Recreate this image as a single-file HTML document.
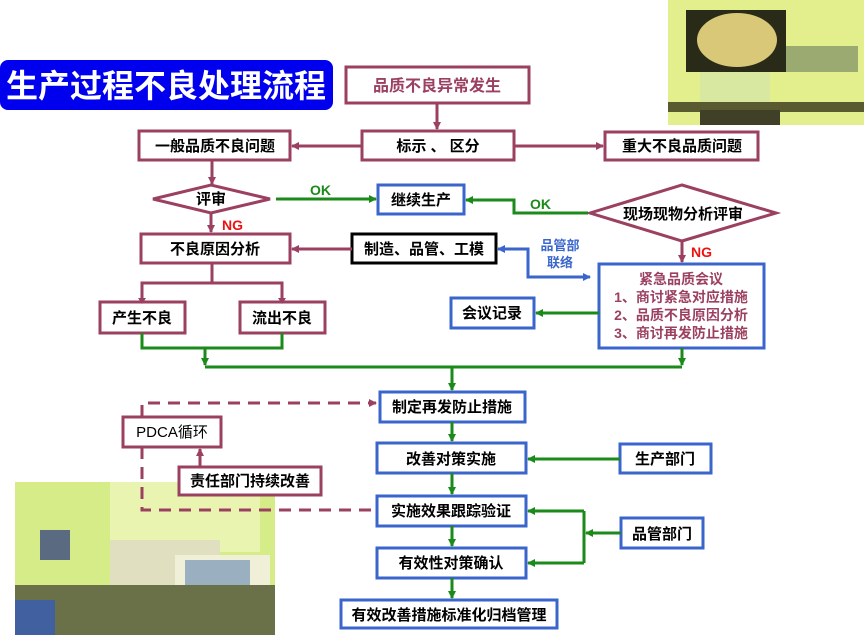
<!DOCTYPE html>
<html><head><meta charset="utf-8"><style>
html,body{margin:0;padding:0;background:#fff;}
svg{display:block;}
text{font-family:"Liberation Sans","Noto Sans CJK SC",sans-serif;font-weight:bold;}
</style></head><body>
<svg width="864" height="635" viewBox="0 0 864 635" xmlns="http://www.w3.org/2000/svg">
<defs>
<marker id="am" markerWidth="8" markerHeight="8" refX="7" refY="4" orient="auto" markerUnits="userSpaceOnUse"><path d="M0,0 L8,4 L0,8 z" fill="#9b4060"/></marker>
<marker id="ag" markerWidth="8" markerHeight="8" refX="7" refY="4" orient="auto" markerUnits="userSpaceOnUse"><path d="M0,0 L8,4 L0,8 z" fill="#1a8a1a"/></marker>
<marker id="ab" markerWidth="8" markerHeight="8" refX="7" refY="4" orient="auto" markerUnits="userSpaceOnUse"><path d="M0,0 L8,4 L0,8 z" fill="#3a66cc"/></marker>
<marker id="abs" markerWidth="8" markerHeight="8" refX="1" refY="4" orient="auto" markerUnits="userSpaceOnUse"><path d="M8,0 L0,4 L8,8 z" fill="#3a66cc"/></marker>
</defs>

<!-- top-right photo -->
<rect x="668" y="0" width="196" height="125" fill="#e3ee8c"/>
<rect x="686" y="10" width="100" height="62" fill="#2a2a18"/>
<ellipse cx="737" cy="40" rx="40" ry="27" fill="#d8c878"/>
<rect x="786" y="46" width="72" height="26" fill="#9aaa70"/>
<rect x="700" y="72" width="70" height="30" fill="#d8e8a0"/>
<rect x="668" y="102" width="196" height="10" fill="#5a5a30"/>
<rect x="700" y="110" width="80" height="15" fill="#404028"/>

<!-- bottom-left photo -->
<rect x="15" y="482" width="260" height="153" fill="#d6ec88"/>
<rect x="110" y="482" width="150" height="70" fill="#e8f4b0"/>
<rect x="40" y="530" width="30" height="30" fill="#5a6a80"/>
<rect x="110" y="540" width="110" height="45" fill="#e0e0c0"/>
<rect x="175" y="555" width="95" height="60" fill="#f0f0d8"/>
<rect x="185" y="560" width="65" height="45" fill="#9ab0c0"/>
<rect x="15" y="585" width="260" height="50" fill="#6a7048"/>
<rect x="15" y="600" width="40" height="35" fill="#4060a0"/>

<!-- title -->
<rect x="0" y="60" width="333" height="50" rx="8" fill="#0000ee"/>
<text x="166" y="97" font-size="32" fill="#fff" text-anchor="middle">生产过程不良处理流程</text>

<g fill="#fff" stroke="#9b4060" stroke-width="3">
<rect x="346" y="67" width="183" height="36"/>
<rect x="362" y="131" width="152" height="29"/>
<rect x="139" y="131" width="151" height="29"/>
<rect x="605" y="132" width="153" height="28"/>
<polygon points="153,199 211,185 270,199 211,213"/>
<polygon points="590,213 682,185 776,213 682,241"/>
<rect x="141" y="234" width="149" height="29"/>
<rect x="100" y="302" width="85" height="31"/>
<rect x="240" y="302" width="85" height="31"/>
<rect x="123" y="417" width="98" height="30"/>
<rect x="179" y="467" width="142" height="28"/>
</g>
<rect x="352" y="234" width="144" height="29" fill="#fff" stroke="#000" stroke-width="3"/>
<g fill="#fff" stroke="#3a66cc" stroke-width="3">
<rect x="378" y="185" width="86" height="29"/>
<rect x="599" y="264" width="165" height="84"/>
<rect x="451" y="298" width="83" height="30"/>
<rect x="380" y="392" width="145" height="30"/>
<rect x="377" y="443" width="149" height="30"/>
<rect x="377" y="496" width="149" height="30"/>
<rect x="377" y="548" width="149" height="30"/>
<rect x="341" y="600" width="216" height="28"/>
<rect x="620" y="444" width="91" height="29"/>
<rect x="621" y="518" width="82" height="30"/>
</g>

<!-- maroon connectors -->
<g stroke="#9b4060" stroke-width="3" fill="none">
<line x1="437" y1="103" x2="437" y2="129" marker-end="url(#am)"/>
<line x1="362" y1="146" x2="292" y2="146" marker-end="url(#am)"/>
<line x1="514" y1="146" x2="603" y2="146" marker-end="url(#am)"/>
<line x1="212" y1="160" x2="212" y2="184" marker-end="url(#am)"/>
<line x1="211" y1="213" x2="211" y2="232" marker-end="url(#am)"/>
<line x1="352" y1="249" x2="292" y2="249" marker-end="url(#am)"/>
<line x1="212" y1="263" x2="212" y2="283"/>
<polyline points="142,300 142,283 282,283 282,300"/>
<line x1="682" y1="241" x2="682" y2="262" marker-end="url(#am)"/>
<line x1="200" y1="467" x2="200" y2="449" marker-end="url(#am)"/>
<polyline points="142,417 142,403 376,403" stroke-dasharray="12,8" marker-end="url(#am)"/>
<polyline points="142,447 142,510 377,510" stroke-dasharray="12,8"/>
</g>
<path d="M138,298 l4,6 l4,-6z M278,298 l4,6 l4,-6z" fill="#9b4060"/>

<!-- green connectors -->
<g stroke="#1a8a1a" stroke-width="3" fill="none">
<line x1="276" y1="199" x2="376" y2="199" marker-end="url(#ag)"/>
<polyline points="588,213 514,213 514,200 466,200" marker-end="url(#ag)"/>
<line x1="599" y1="313" x2="536" y2="313" marker-end="url(#ag)"/>
<polyline points="142,333 142,348 282,348 282,333"/>
<line x1="205" y1="348" x2="205" y2="365" marker-end="url(#ag)"/>
<line x1="682" y1="348" x2="682" y2="365" marker-end="url(#ag)"/>
<line x1="205" y1="367" x2="682" y2="367"/>
<line x1="452" y1="367" x2="452" y2="390" marker-end="url(#ag)"/>
<line x1="452" y1="422" x2="452" y2="441" marker-end="url(#ag)"/>
<line x1="452" y1="473" x2="452" y2="494" marker-end="url(#ag)"/>
<line x1="452" y1="526" x2="452" y2="546" marker-end="url(#ag)"/>
<line x1="452" y1="578" x2="452" y2="598" marker-end="url(#ag)"/>
<line x1="620" y1="459" x2="528" y2="459" marker-end="url(#ag)"/>
<polyline points="584,511 584,563"/>
<line x1="584" y1="511" x2="528" y2="511" marker-end="url(#ag)"/>
<line x1="584" y1="563" x2="528" y2="563" marker-end="url(#ag)"/>
<line x1="621" y1="533" x2="586" y2="533" marker-end="url(#ag)"/>
</g>

<!-- blue connector -->
<polyline points="498,249 528,249 528,277 590,277" stroke="#3a66cc" stroke-width="3" fill="none" marker-start="url(#abs)" marker-end="url(#ab)"/>

<!-- texts -->
<g font-size="15" fill="#000" text-anchor="middle">
<text x="437" y="91" fill="#9b4060" font-size="16">品质不良异常发生</text>
<text x="438" y="151">标示 、 区分</text>
<text x="215" y="151">一般品质不良问题</text>
<text x="682" y="151">重大不良品质问题</text>
<text x="211" y="204">评审</text>
<text x="683" y="219">现场现物分析评审</text>
<text x="421" y="205">继续生产</text>
<text x="215" y="254">不良原因分析</text>
<text x="424" y="254">制造、品管、工模</text>
<text x="142" y="323">产生不良</text>
<text x="282" y="323">流出不良</text>
<text x="492" y="318">会议记录</text>
<text x="172" y="437" style="font-weight:normal">PDCA循环</text>
<text x="250" y="486">责任部门持续改善</text>
<text x="452" y="412">制定再发防止措施</text>
<text x="451" y="464">改善对策实施</text>
<text x="451" y="516">实施效果跟踪验证</text>
<text x="451" y="568">有效性对策确认</text>
<text x="449" y="620">有效改善措施标准化归档管理</text>
<text x="665" y="464">生产部门</text>
<text x="662" y="539">品管部门</text>
</g>
<g font-size="14" fill="#9b4060" text-anchor="middle">
<text x="681" y="284">紧急品质会议</text>
<text x="681" y="302">1、商讨紧急对应措施</text>
<text x="681" y="320">2、品质不良原因分析</text>
<text x="681" y="338">3、商讨再发防止措施</text>
</g>
<text x="310" y="195" font-size="14" fill="#1a8a1a">OK</text>
<text x="530" y="209" font-size="14" fill="#1a8a1a">OK</text>
<text x="222" y="230" font-size="14" fill="#ee1111">NG</text>
<text x="691" y="257" font-size="14" fill="#ee1111">NG</text>
<text x="560" y="250" font-size="13" fill="#3a66cc" text-anchor="middle">品管部</text>
<text x="560" y="267" font-size="13" fill="#3a66cc" text-anchor="middle">联络</text>
</svg>
</body></html>
